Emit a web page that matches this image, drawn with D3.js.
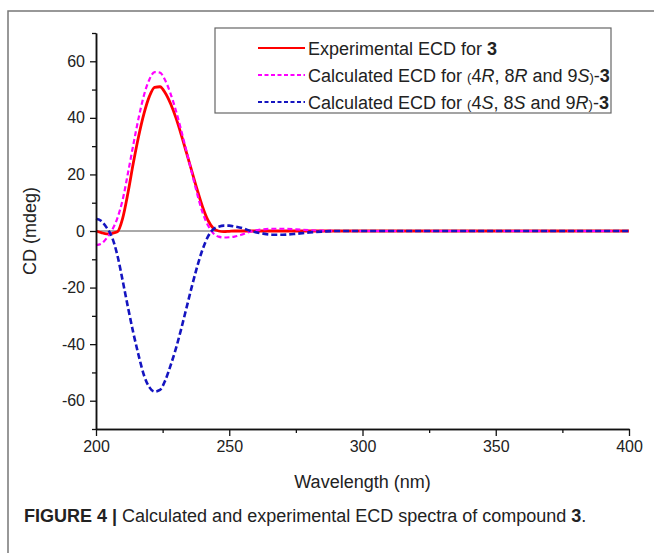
<!DOCTYPE html>
<html>
<head>
<meta charset="utf-8">
<script src="https://cdn.jsdelivr.net/npm/d3@7"></script>
<style>
  body { margin: 0; background: #fff; }
  text { font-family: 'Liberation Sans', Arial, sans-serif; }
</style>
</head>
<body>
<div class="chart-container"></div>
<script>
// wavelengths (nm) shared by the three spectra
const wavelength = [200, 202, 204, 206, 208, 210, 212, 214, 216, 218, 220, 222, 224, 226, 228, 230,
  232, 234, 236, 238, 240, 242, 244, 246, 248, 250, 252, 255, 258, 262, 266, 270, 275, 280, 285, 290,
  300, 320, 340, 360, 380, 400];

// experimental ECD (red)
const experimental = [0, -0.6, -1.0, -0.8, -0.3, 4.5, 13.5, 24, 33.5, 41.5, 47.5, 50.8, 51, 48.8, 45, 40,
  34, 27.5, 21, 14.5, 8.5, 3.8, 1, 0, -0.2, -0.1, 0, 0, 0, 0, 0, 0, 0, 0, 0, 0,
  0, 0, 0, 0, 0, 0];

// calculated (4R, 8R and 9S)-3 (magenta)
const calcRRS = [-5, -4.5, -2.5, 0.3, 4.5, 11, 20.5, 30.5, 40, 48, 53.5, 56.2, 56, 53.2, 48.5, 42.5,
  35.5, 28, 20.5, 13, 6.5, 2, -0.8, -2, -2.3, -2.2, -2, -1.2, -0.2, 0.5, 0.8, 0.8, 0.6, 0.3, 0.1, 0,
  0, 0, 0, 0, 0, 0];

// calculated (4S, 8S and 9R)-3 (blue)
const calcSSR = [4.3, 3.5, 1.2, -2.2, -8.5, -17.5, -27, -36, -44, -51, -55.2, -56.8, -56.2, -52.8, -47.5, -41.5,
  -34.5, -27, -19.5, -12.5, -6.5, -2, 0.6, 1.5, 1.9, 1.9, 1.6, 1, 0, -0.8, -1.3, -1.3, -1, -0.5, -0.2, 0,
  0, 0, 0, 0, 0, 0];

const xTicks = [200, 250, 300, 350, 400];
const xMinorTicks = [225, 275, 325, 375];
const yTicks = [-60, -40, -20, 0, 20, 40, 60];
const yMinorTicks = [-70, -50, -30, -10, 10, 30, 50, 70];

const W = 654, H = 553;
const margin = { top: 33, right: 25, bottom: 124, left: 96 };
const width = W - margin.left - margin.right;
const height = H - margin.top - margin.bottom;

const root = d3.select('.chart-container')
  .append('svg')
  .attr('width', W)
  .attr('height', H);

// figure frame
root.append('path')
  .attr('d', `M8,${H} L8,11 L${W},11`)
  .attr('fill', 'none')
  .attr('stroke', '#777')
  .attr('stroke-width', 1.5);

const svg = root.append('g')
  .attr('transform', `translate(${margin.left}, ${margin.top})`);

// scales
const x = d3.scaleLinear().domain([200, 400]).range([0, width]);
const y = d3.scaleLinear().domain([-70, 70]).range([height, 0]);

// zero line
svg.append('line')
  .attr('x1', 0).attr('x2', width)
  .attr('y1', y(0)).attr('y2', y(0))
  .attr('stroke', '#555')
  .attr('stroke-width', 1);

// spectra
const series = [
  { values: experimental, color: '#ff0000', dash: null, w: 2.8 },
  { values: calcRRS, color: '#ff00ff', dash: '5,3', w: 2.2 },
  { values: calcSSR, color: '#1414c0', dash: '6,3', w: 2.6 }
];

const line = d3.line()
  .x(d => x(d[0]))
  .y(d => y(d[1]))
  .curve(d3.curveMonotoneX);

series.forEach(s => {
  svg.append('path')
    .datum(wavelength.map((wl, i) => [wl, s.values[i]]))
    .attr('fill', 'none')
    .attr('stroke', s.color)
    .attr('stroke-width', s.w)
    .attr('stroke-dasharray', s.dash)
    .attr('d', line);
});

// axes
svg.append('g')
  .attr('transform', `translate(0, ${height})`)
  .call(d3.axisBottom(x).tickValues(xTicks).tickSize(7).tickPadding(5).tickSizeOuter(0));
svg.append('g')
  .attr('transform', `translate(0, ${height})`)
  .call(d3.axisBottom(x).tickValues(xMinorTicks).tickSize(4).tickFormat('').tickSizeOuter(0));

svg.append('g')
  .call(d3.axisLeft(y).tickValues(yTicks).tickSize(6).tickPadding(5).tickSizeOuter(0)
    .tickFormat(d => String(d)));
svg.append('g')
  .call(d3.axisLeft(y).tickValues(yMinorTicks).tickSize(4).tickFormat('').tickSizeOuter(0));

svg.selectAll('.domain').attr('stroke', '#111').attr('stroke-width', 1.5);
svg.selectAll('.tick line').attr('stroke', '#111').attr('stroke-width', 1.3);
svg.selectAll('.tick text')
  .style('font-size', '16px')
  .attr('fill', '#222');

// axis labels
svg.append('text')
  .attr('x', width / 2)
  .attr('y', height + 59)
  .style('font-size', '18px')
  .style('text-anchor', 'middle')
  .attr('fill', '#222')
  .text('Wavelength (nm)');

svg.append('text')
  .attr('transform', 'rotate(-90)')
  .attr('x', -y(0))
  .attr('y', -60)
  .style('font-size', '18px')
  .style('text-anchor', 'middle')
  .attr('fill', '#222')
  .text('CD (mdeg)');

// legend
const legend = root.append('g');
legend.append('rect')
  .attr('x', 215).attr('y', 28)
  .attr('width', 396).attr('height', 85)
  .attr('fill', '#fff')
  .attr('stroke', '#666')
  .attr('stroke-width', 1.2);

const legendRows = [
  { color: '#ff0000', dash: null, parts: [['Experimental ECD for ', ''], ['3', 'b']] },
  { color: '#ff00ff', dash: '4,2.5', parts: [['Calculated ECD for ', ''], ['(', 'p'], ['4', ''], ['R', 'i'], [', 8', ''], ['R', 'i'], [' and 9', ''], ['S', 'i'], [')', 'p'], ['-', ''], ['3', 'b']] },
  { color: '#1414c0', dash: '4,2.5', parts: [['Calculated ECD for ', ''], ['(', 'p'], ['4', ''], ['S', 'i'], [', 8', ''], ['S', 'i'], [' and 9', ''], ['R', 'i'], [')', 'p'], ['-', ''], ['3', 'b']] }
];
const rowY = [48, 75, 102];

legendRows.forEach((r, i) => {
  legend.append('line')
    .attr('x1', 258).attr('x2', 305)
    .attr('y1', rowY[i]).attr('y2', rowY[i])
    .attr('stroke', r.color)
    .attr('stroke-width', 2)
    .attr('stroke-dasharray', r.dash);
  const t = legend.append('text')
    .attr('x', 308)
    .attr('y', rowY[i] + 6.5)
    .style('font-size', '18px')
    .attr('fill', '#222');
  r.parts.forEach(p => {
    const ts = t.append('tspan').text(p[0]);
    if (p[1] === 'b') ts.style('font-weight', 'bold');
    if (p[1] === 'i') ts.style('font-style', 'italic');
    if (p[1] === 'p') ts.style('font-size', '13px');
  });
});

// caption
const cap = root.append('text')
  .attr('x', 24)
  .attr('y', 522)
  .style('font-size', '18px')
  .attr('fill', '#222');
cap.append('tspan').style('font-weight', 'bold').text('FIGURE 4 | ');
cap.append('tspan').text('Calculated and experimental ECD spectra of compound ');
cap.append('tspan').style('font-weight', 'bold').text('3');
cap.append('tspan').text('.');
</script>
</body>
</html>
